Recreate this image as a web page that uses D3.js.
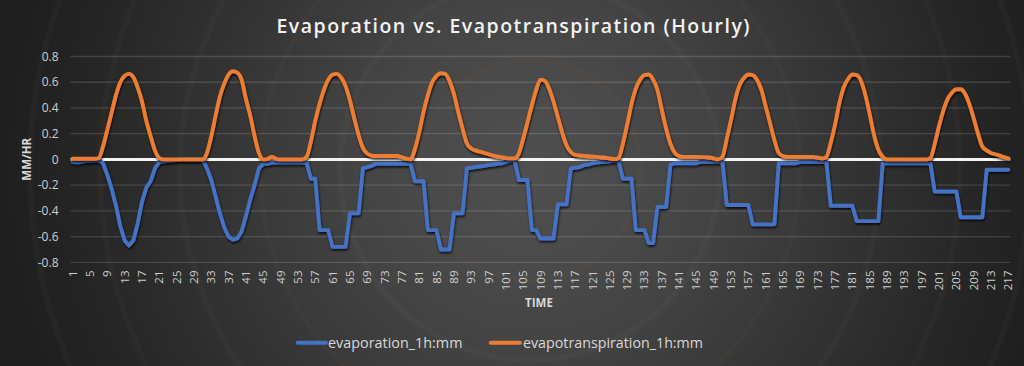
<!DOCTYPE html>
<html><head><meta charset="utf-8">
<script src="https://cdn.jsdelivr.net/npm/d3@7"></script>
<style>html,body{margin:0;padding:0;background:#1f1f1f;overflow:hidden}</style>
</head><body><svg id="c" width="1024" height="366"></svg>
<script>
const hours = d3.range(1, 218);
const evaporation = [
 -0.02,-0.022,-0.02,-0.012,-0.01,-0.008,-0.005,-0.03,-0.12,-0.23,
 -0.36,-0.52,-0.63,-0.67,-0.63,-0.5,-0.33,-0.22,-0.17,-0.07,
 -0.02,-0.015,-0.012,-0.01,-0.005,0,0,0,0,0,
 0,-0.07,-0.16,-0.29,-0.42,-0.53,-0.6,-0.625,-0.615,-0.56,
 -0.44,-0.31,-0.2,-0.07,-0.035,-0.035,-0.025,-0.025,-0.025,-0.025,
 -0.025,-0.025,-0.025,-0.025,-0.025,-0.15,-0.15,-0.55,-0.55,-0.55,
 -0.68,-0.68,-0.68,-0.68,-0.42,-0.42,-0.42,-0.07,-0.06,-0.05,
 -0.035,-0.035,-0.035,-0.035,-0.035,-0.035,-0.035,-0.035,-0.035,-0.17,
 -0.17,-0.17,-0.55,-0.55,-0.55,-0.7,-0.7,-0.7,-0.42,-0.42,
 -0.42,-0.07,-0.065,-0.06,-0.055,-0.05,-0.045,-0.04,-0.035,-0.03,
 -0.02,-0.01,-0.005,-0.16,-0.16,-0.16,-0.55,-0.55,-0.615,-0.615,
 -0.615,-0.615,-0.35,-0.35,-0.35,-0.07,-0.065,-0.06,-0.045,-0.04,
 -0.03,-0.025,-0.02,-0.018,-0.015,-0.01,-0.01,-0.15,-0.15,-0.15,
 -0.55,-0.55,-0.55,-0.65,-0.65,-0.37,-0.37,-0.37,-0.04,-0.03,
 -0.03,-0.03,-0.03,-0.03,-0.03,-0.018,-0.018,-0.018,-0.018,-0.018,
 -0.018,-0.355,-0.355,-0.355,-0.355,-0.355,-0.355,-0.505,-0.505,-0.505,
 -0.505,-0.505,-0.505,-0.03,-0.03,-0.03,-0.03,-0.03,-0.018,-0.018,
 -0.018,-0.018,-0.018,-0.018,-0.018,-0.36,-0.36,-0.36,-0.36,-0.36,
 -0.36,-0.48,-0.48,-0.48,-0.48,-0.48,-0.48,-0.03,-0.03,-0.03,
 -0.03,-0.03,-0.03,-0.03,-0.03,-0.03,-0.03,-0.03,-0.03,-0.25,
 -0.25,-0.25,-0.25,-0.25,-0.25,-0.45,-0.45,-0.45,-0.45,-0.45,
 -0.45,-0.08,-0.08,-0.08,-0.08,-0.08,-0.08
];
const evapotranspiration = [
 0.005,0.005,0.005,0.005,0.005,0.005,0.01,0.1,0.23,0.365,
 0.5,0.6,0.65,0.665,0.64,0.56,0.45,0.3,0.18,0.07,
 0.01,0,0,0,0,0,0,0,0,0,
 0,0.05,0.18,0.34,0.49,0.59,0.66,0.685,0.675,0.62,
 0.47,0.34,0.18,0.05,0,0.005,0.02,0.005,0,0,
 0,0,0,0,0.02,0.14,0.3,0.43,0.54,0.62,
 0.66,0.665,0.635,0.57,0.46,0.32,0.19,0.09,0.045,0.03,
 0.026,0.026,0.026,0.026,0.026,0.026,0.017,0.006,0,0.08,
 0.21,0.37,0.5,0.6,0.65,0.67,0.665,0.61,0.51,0.37,
 0.24,0.125,0.085,0.07,0.06,0.05,0.04,0.03,0.023,0.016,
 0.01,0.008,0.008,0.047,0.16,0.29,0.42,0.54,0.62,0.61,
 0.55,0.45,0.33,0.21,0.11,0.057,0.035,0.03,0.027,0.024,
 0.022,0.02,0.016,0.013,0.007,0.002,0.01,0.12,0.27,0.43,
 0.55,0.62,0.655,0.66,0.62,0.54,0.385,0.24,0.12,0.05,
 0.025,0.02,0.02,0.02,0.02,0.018,0.018,0.015,0.008,0,
 0.02,0.16,0.31,0.47,0.58,0.635,0.66,0.655,0.618,0.54,
 0.41,0.28,0.15,0.05,0.025,0.02,0.02,0.02,0.02,0.02,
 0.02,0.018,0.015,0.008,0.02,0.13,0.27,0.44,0.56,0.625,
 0.66,0.655,0.61,0.5,0.35,0.19,0.075,0.02,0,0,
 0,0,0,0,0,0,0,0,0.01,0.12,
 0.26,0.38,0.47,0.52,0.545,0.545,0.51,0.43,0.32,0.2,
 0.1,0.07,0.05,0.04,0.03,0.017,0.008
];
const yTicks = [-0.8,-0.6,-0.4,-0.2,0,0.2,0.4,0.6,0.8];
const yTickLabels = ["-0.8","-0.6","-0.4","-0.2","0","0.2","0.4","0.6","0.8"];
const xTickLabels = hours.filter(h => (h - 1) % 4 === 0);
const seriesNames = ["evaporation_1h:mm", "evapotranspiration_1h:mm"];
const seriesColors = ["#4472C4", "#ED7D31"];
const titleText = "Evaporation vs. Evapotranspiration (Hourly)";

const svg = d3.select("#c");
const FONT = "'Open Sans', 'Noto Sans', sans-serif";
const defs = svg.append("defs");
const rg = defs.append("radialGradient").attr("id","bg").attr("gradientUnits","userSpaceOnUse")
  .attr("cx",530).attr("cy",170).attr("r",540);
[[0,"#4f4f4f"],[0.12,"#4c4c4c"],[0.2,"#494949"],[0.32,"#444444"],[0.45,"#3c3c3c"],
 [0.58,"#343434"],[0.7,"#2d2d2d"],[0.82,"#262626"],[0.92,"#212121"],[1,"#1e1e1e"]]
 .forEach(([o,c]) => rg.append("stop").attr("offset",o).attr("stop-color",c));
const f = defs.append("filter").attr("id","sh").attr("x","-5%").attr("y","-20%").attr("width","110%").attr("height","140%");
f.append("feDropShadow").attr("dx",0.6).attr("dy",1.8).attr("stdDeviation",1.3)
  .attr("flood-color","#000").attr("flood-opacity",0.8);

svg.append("rect").attr("width",1024).attr("height",366).attr("fill","url(#bg)");
[110,190,270,350,430,500].forEach((r,i) => svg.append("circle").attr("cx",530).attr("cy",170).attr("r",r)
  .attr("fill","none").attr("stroke", i%2 ? "rgba(255,255,255,0.025)" : "rgba(150,110,70,0.06)").attr("stroke-width",6));

const x = d3.scaleBand().domain(hours).range([70.5, 1010.5]).padding(0);
const xc = h => x(h) + x.bandwidth()/2;
const y = d3.scaleLinear().domain([-0.8, 0.8]).range([262.3, 56.5]);

svg.append("g").selectAll("line").data(yTicks.filter(v => v !== 0)).join("line")
  .attr("x1",70.5).attr("x2",1010.5).attr("y1",d=>y(d)).attr("y2",d=>y(d))
  .attr("stroke","rgba(255,255,255,0.14)").attr("stroke-width",1.3);

svg.append("g").selectAll("text").data(yTicks).join("text")
  .attr("x",58.5).attr("y",d=>y(d)).attr("dy","0.35em").attr("text-anchor","end")
  .attr("font-family",FONT).attr("font-size",12).attr("fill","#cfcfcf")
  .text((d,i)=>yTickLabels[i]);

svg.append("line").attr("x1",70.5).attr("x2",1010.5).attr("y1",y(0)).attr("y2",y(0))
  .attr("stroke","#f4f4f4").attr("stroke-width",3);

svg.append("g").selectAll("text").data(xTickLabels).join("text")
  .attr("transform",d=>`translate(${xc(d)},270.5) rotate(-90)`)
  .attr("dy","0.35em").attr("text-anchor","end")
  .attr("font-family",FONT).attr("font-size",11.5).attr("fill","#cfcfcf")
  .text(d=>d);

const line = d3.line().x((d,i)=>xc(hours[i])).y(d=>y(d));
const lineSmooth = d3.line().x((d,i)=>xc(hours[i])).y(d=>y(d)).curve(d3.curveMonotoneX);
svg.append("path").datum(evaporation).attr("d",line).attr("fill","none")
  .attr("stroke",seriesColors[0]).attr("stroke-width",3.9).attr("stroke-linejoin","round")
  .attr("stroke-linecap","round").attr("filter","url(#sh)");
svg.append("path").datum(evapotranspiration).attr("d",lineSmooth).attr("fill","none")
  .attr("stroke",seriesColors[1]).attr("stroke-width",3.9).attr("stroke-linejoin","round")
  .attr("stroke-linecap","round").attr("filter","url(#sh)");

svg.append("text").attr("x",513).attr("y",32.5).attr("text-anchor","middle")
  .attr("font-family",FONT).attr("font-weight",600).attr("font-size",19.5).attr("fill","#f2f2f2")
  .attr("textLength",473).attr("lengthAdjust","spacing").text(titleText);

svg.append("text").attr("transform","translate(31,159.3) rotate(-90)").attr("text-anchor","middle")
  .attr("font-family",FONT).attr("font-weight",700).attr("font-size",11.5).attr("fill","#d9d9d9")
  .text("MM/HR");
svg.append("text").attr("x",539).attr("y",306.5).attr("text-anchor","middle")
  .attr("font-family",FONT).attr("font-weight",700).attr("font-size",11.5).attr("fill","#d9d9d9")
  .text("TIME");

const legendPos = [{x1:297.7,x2:326,tx:328,tl:134.5},{x1:490.7,x2:520,tx:523,tl:180}];
legendPos.forEach((p,i)=>{
  svg.append("line").attr("x1",p.x1).attr("x2",p.x2).attr("y1",342.7).attr("y2",342.7)
    .attr("stroke",seriesColors[i]).attr("stroke-width",3.9).attr("stroke-linecap","round");
  svg.append("text").attr("x",p.tx).attr("y",347.5).attr("font-family",FONT).attr("font-size",14)
    .attr("fill","#d9d9d9").attr("textLength",p.tl).attr("lengthAdjust","spacingAndGlyphs")
    .text(seriesNames[i]);
});
</script></body></html>
